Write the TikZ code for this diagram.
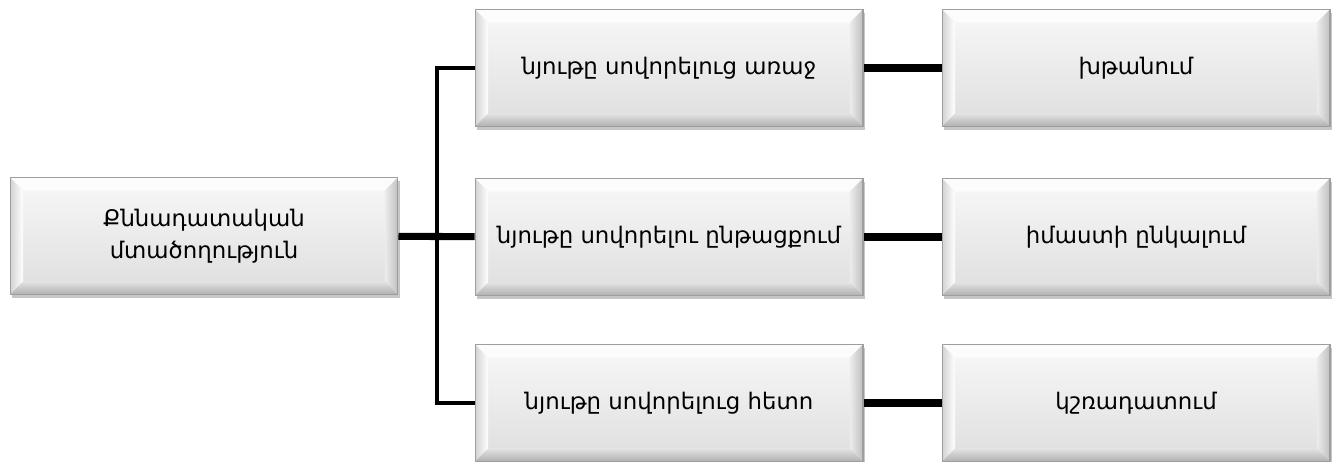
\documentclass[tikz,border=0pt]{standalone}
\usepackage{fontspec}
\newfontfamily\armfont{DejaVu Sans}
\usetikzlibrary{shadows}
\definecolor{bevelrim}{HTML}{9E9E9E}
\definecolor{bevellight}{HTML}{FCFCFC}
\definecolor{beveldark}{HTML}{B0B0B0}
\definecolor{facetop}{HTML}{F8F8F8}
\definecolor{facebot}{HTML}{DEDEDE}
\tikzset{
  bevelbox/.style={draw=bevelrim, line width=0.6pt,
    minimum width=7.76cm, minimum height=2.34cm, inner sep=0pt,
    top color=facetop, bottom color=facebot,
    align=center, font=\armfont\fontsize{13}{18}\selectfont,
    drop shadow={shadow xshift=1.2pt, shadow yshift=-1.8pt, opacity=0.45, fill=gray},
    path picture={
      % top bevel
      \fill[bevellight] (path picture bounding box.north west)
        -- (path picture bounding box.north east)
        -- ([shift={(-0.26cm,-0.26cm)}]path picture bounding box.north east)
        -- ([shift={(0.26cm,-0.26cm)}]path picture bounding box.north west) -- cycle;
      % left bevel
      \shade[left color=gray!35, right color=white] (path picture bounding box.north west)
        -- ([shift={(0.26cm,-0.26cm)}]path picture bounding box.north west)
        -- ([shift={(0.26cm,0.26cm)}]path picture bounding box.south west)
        -- (path picture bounding box.south west) -- cycle;
      % right bevel
      \shade[left color=gray!15, right color=gray!50] (path picture bounding box.north east)
        -- ([shift={(-0.26cm,-0.26cm)}]path picture bounding box.north east)
        -- ([shift={(-0.26cm,0.26cm)}]path picture bounding box.south east)
        -- (path picture bounding box.south east) -- cycle;
      % bottom bevel
      \shade[top color=gray!22, bottom color=beveldark] (path picture bounding box.south west)
        -- ([shift={(0.26cm,0.26cm)}]path picture bounding box.south west)
        -- ([shift={(-0.26cm,0.26cm)}]path picture bounding box.south east)
        -- (path picture bounding box.south east) -- cycle;
    }},
  thinlink/.style={line width=2.4pt},
  thicklink/.style={line width=4pt}
}
\begin{document}
\begin{tikzpicture}[x=0.02cm,y=-0.02cm]
  \useasboundingbox (0,0) rectangle (1337,462);

  % boxes
  \node[bevelbox] (root) at (204,236) {Քննադատական\\մտածողություն};

  \node[bevelbox] (before) at (669,68) {նյութը սովորելուց առաջ};
  \node[bevelbox] (during) at (669,237) {նյութը սովորելու ընթացքում};
  \node[bevelbox] (after) at (669,403) {նյութը սովորելուց հետո};

  \node[bevelbox] (challenge) at (1136,68) {խթանում};
  \node[bevelbox] (meaning) at (1136,237) {իմաստի ընկալում};
  \node[bevelbox] (reflect) at (1136,403) {կշռադատում};

  % connectors
  \coordinate (fork) at (437,237);
  \draw[thicklink] (root) -- (during);
  \draw[thinlink] (fork) |- (before.west);
  \draw[thinlink] (fork) |- (after.west);

  \draw[thicklink] (before) -- (challenge);
  \draw[thicklink] (during) -- (meaning);
  \draw[thicklink] (after) -- (reflect);
\end{tikzpicture}
\end{document}
